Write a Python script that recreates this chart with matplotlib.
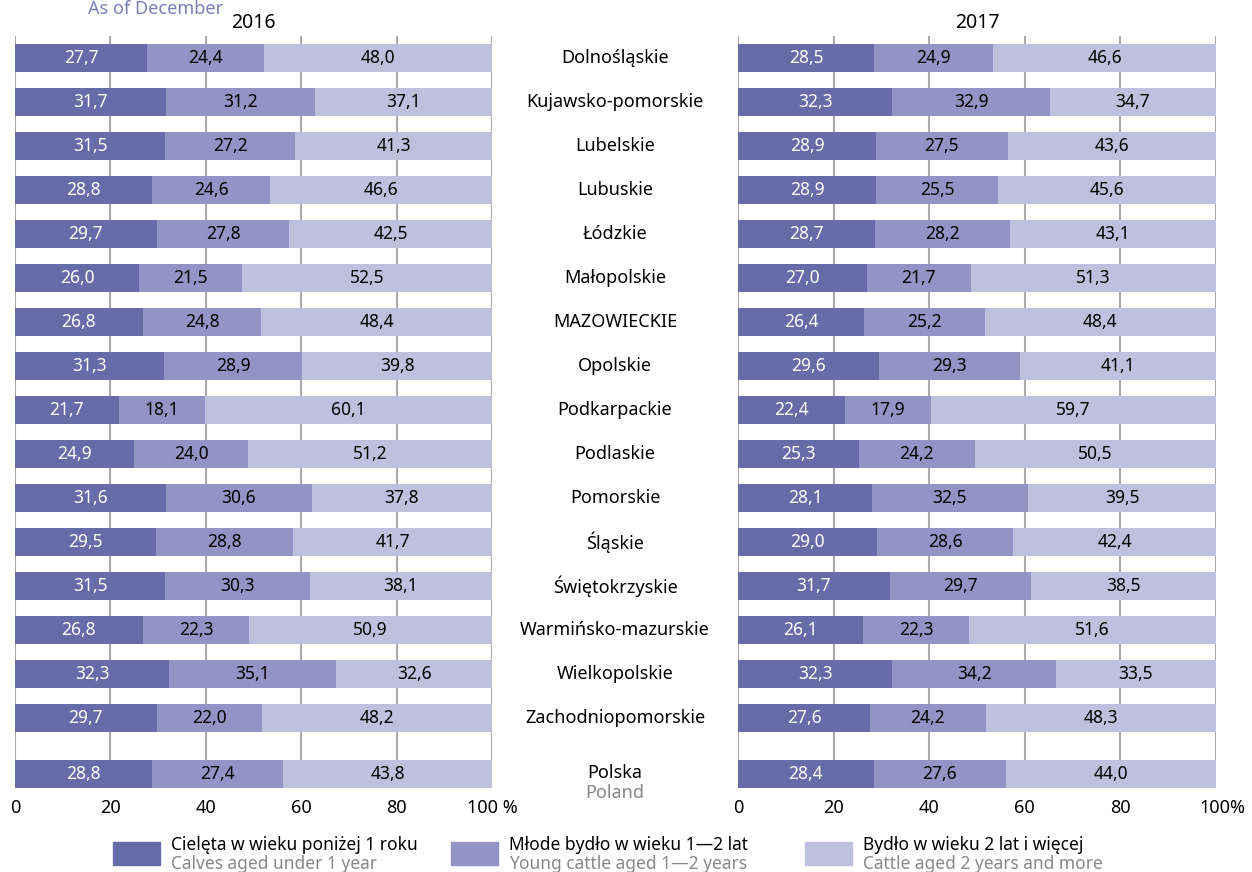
import numpy as np
import matplotlib.pyplot as plt
import matplotlib.transforms as mtransforms
from matplotlib.patches import Rectangle

plt.rcParams['font.family'] = ['Noto Sans', 'DejaVu Sans']

regions = ['Dolnośląskie', 'Kujawsko-pomorskie', 'Lubelskie', 'Lubuskie', 'Łódzkie',
           'Małopolskie', 'MAZOWIECKIE', 'Opolskie', 'Podkarpackie', 'Podlaskie',
           'Pomorskie', 'Śląskie', 'Świętokrzyskie', 'Warmińsko-mazurskie',
           'Wielkopolskie', 'Zachodniopomorskie', 'Polska']

calves_2016 = [27.7, 31.7, 31.5, 28.8, 29.7, 26.0, 26.8, 31.3, 21.7, 24.9, 31.6, 29.5, 31.5, 26.8, 32.3, 29.7, 28.8]
young_2016 = [24.4, 31.2, 27.2, 24.6, 27.8, 21.5, 24.8, 28.9, 18.1, 24.0, 30.6, 28.8, 30.3, 22.3, 35.1, 22.0, 27.4]
older_2016 = [48.0, 37.1, 41.3, 46.6, 42.5, 52.5, 48.4, 39.8, 60.1, 51.2, 37.8, 41.7, 38.1, 50.9, 32.6, 48.2, 43.8]

calves_2017 = [28.5, 32.3, 28.9, 28.9, 28.7, 27.0, 26.4, 29.6, 22.4, 25.3, 28.1, 29.0, 31.7, 26.1, 32.3, 27.6, 28.4]
young_2017 = [24.9, 32.9, 27.5, 25.5, 28.2, 21.7, 25.2, 29.3, 17.9, 24.2, 32.5, 28.6, 29.7, 22.3, 34.2, 24.2, 27.6]
older_2017 = [46.6, 34.7, 43.6, 45.6, 43.1, 51.3, 48.4, 41.1, 59.7, 50.5, 39.5, 42.4, 38.5, 51.6, 33.5, 48.3, 44.0]

legend_pl = ['Cielęta w wieku poniżej 1 roku', 'Młode bydło w wieku 1—2 lat', 'Bydło w wieku 2 lat i więcej']
legend_en = ['Calves aged under 1 year', 'Young cattle aged 1—2 years', 'Cattle aged 2 years and more']

colors = ['#676ba8', '#9194c4', '#bfc0dd']
text_colors = ['white', 'black', 'black']

# y positions: Polska separated by a little extra gap
ypos = np.arange(len(regions), dtype=float)
ypos[-1] += 0.27

fig = plt.figure(figsize=(12.52, 8.72), dpi=100)
ax1 = fig.add_axes([15/1252, 1 - 788/872, 477/1252, 752/872])
ax2 = fig.add_axes([738/1252, 1 - 788/872, 478/1252, 752/872])


def draw(ax, series, year, pct_label):
    left = np.zeros(len(regions))
    for vals, c, tc in zip(series, colors, text_colors):
        vals = np.array(vals)
        ax.barh(ypos, vals, left=left, height=0.64, color=c, zorder=2)
        for y, l, v in zip(ypos, left, vals):
            ax.text(l + v / 2, y, f'{v:.1f}'.replace('.', ','), ha='center', va='center',
                    color=tc, fontsize=12.5, zorder=3)
        left += vals
    ax.set_xlim(0, 100)
    ax.set_ylim(ypos[-1] + 0.32, -0.5)
    for x in [0, 20, 40, 60, 80, 100]:
        ax.axvline(x, color='#aaaaaa', lw=1.5, zorder=1)
    for s in ax.spines.values():
        s.set_visible(False)
    ax.set_yticks([])
    ax.set_xticks([0, 20, 40, 60, 80, 100])
    ax.set_xticklabels(['0', '20', '40', '60', '80', pct_label])
    ax.tick_params(axis='x', length=0, labelsize=13, pad=8)
    ax.set_title(year, fontsize=14, pad=6)


draw(ax1, [calves_2016, young_2016, older_2016], '2016', '100 %')
draw(ax2, [calves_2017, young_2017, older_2017], '2017', '100%')
lab = ax2.get_xticklabels()[-1]
lab.set_transform(lab.get_transform() + mtransforms.ScaledTranslation(6/100, 0, fig.dpi_scale_trans))

# region labels in the middle (123 px right of left panel)
mid = 123 * 0.72
for name, y in zip(regions, ypos):
    dy = 1 if name == 'Polska' else 0
    ax1.annotate(name, xy=(1, y), xycoords=('axes fraction', 'data'),
                 xytext=(mid, dy), textcoords='offset points', ha='center', va='center',
                 fontsize=13, annotation_clip=False)
ax1.annotate('Poland', xy=(1, ypos[-1]), xycoords=('axes fraction', 'data'),
             xytext=(mid, -14), textcoords='offset points', ha='center', va='center',
             fontsize=13, color='#888888', annotation_clip=False)

fig.text(88/1252, 1 - 14/872, 'As of December', color='#7b7fb5', fontsize=13, va='baseline')

# legend
lx = [113, 451, 805]
for x, c, pl, en in zip(lx, colors, legend_pl, legend_en):
    fig.patches.append(Rectangle((x/1252, 1 - 865/872), 47/1252, 23/872,
                                 transform=fig.transFigure, color=c))
    fig.text((x + 58)/1252, 1 - 845/872, pl, fontsize=12.5, va='center')
    fig.text((x + 58)/1252, 1 - 864/872, en, fontsize=12.5, va='center', color='#888888')

fig.savefig('out.png', dpi=100)
